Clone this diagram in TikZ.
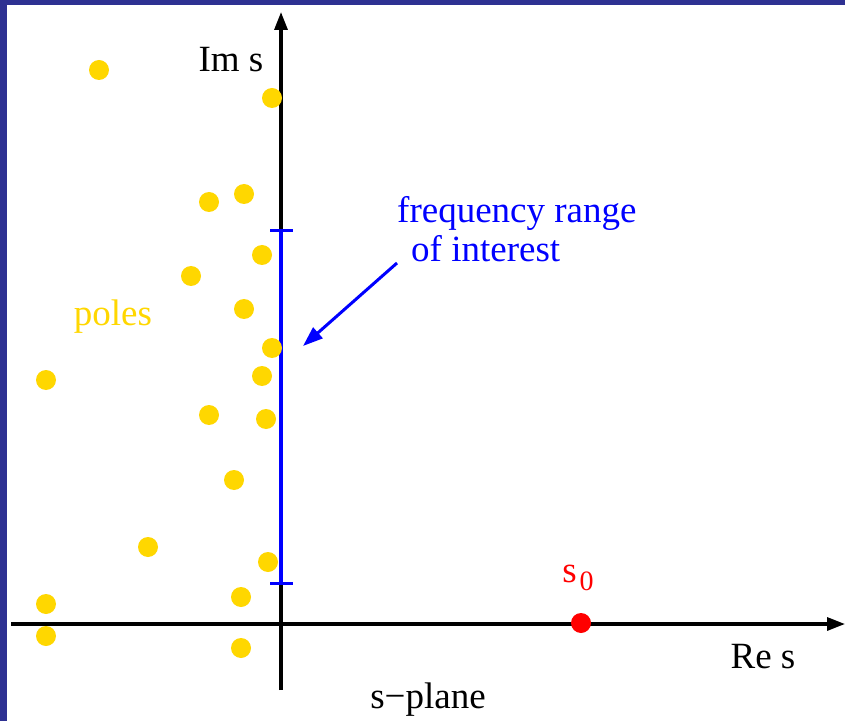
\documentclass[tikz,border=0pt]{standalone}
\usepackage{fontspec}
\setmainfont{Liberation Serif}
\usetikzlibrary{arrows.meta}
\definecolor{frameblue}{HTML}{2E3192}
\definecolor{polegold}{HTML}{FFD700}
\definecolor{pureblue}{HTML}{0000FF}
\definecolor{purered}{HTML}{FF0000}
\tikzset{
  pole/.style={circle,fill=polegold,inner sep=0pt,minimum size=20pt},
  lbl/.style={inner sep=0pt,font=\fontsize{37}{43}\selectfont},
  axis/.style={line width=3.2pt,-{Triangle[length=18pt,width=13pt]}},
}
\begin{document}
\begin{tikzpicture}[x=1pt,y=1pt]
\useasboundingbox (0,0) rectangle (845,721);
\fill[white] (0,0) rectangle (845,721);
\fill[frameblue] (0,0) rectangle (7,721);
\fill[frameblue] (0,716) rectangle (845,721);
% axes
\coordinate (xs) at (11,97);
\coordinate (xe) at (845,97);
\coordinate (ys) at (281,31);
\coordinate (ye) at (281,709);
\draw[axis] (xs) -- (xe);
\draw[axis] (ys) -- (ye);
% frequency range
\coordinate (fr1) at (281,138);
\coordinate (fr2) at (281,490);
\draw[pureblue,line width=3.2pt] (fr1) -- (fr2);
\draw[pureblue,line width=3pt] ([xshift=-11pt]fr1) -- ([xshift=12pt]fr1);
\draw[pureblue,line width=3pt] ([xshift=-11pt]fr2) -- ([xshift=12pt]fr2);
% poles
\foreach \n/\x/\y in {1/99/70,2/272/98,3/209/202,4/244/194,5/262/255,6/191/276,7/244/309,8/272/348,9/46/380,10/262/376,11/209/415,12/266/419,13/234/480,14/148/547,15/268/562,16/46/604,17/241/597,18/46/636,19/241/648}
  \node[pole] (p\n) at (\x,721-\y) {};
% s0
\node[circle,fill=purered,inner sep=0pt,minimum size=20pt] (s0) at (581,98) {};
\node[lbl,text=purered] (s0lbl) at (578,143) {s\kern3pt\raisebox{-0.5ex}{\fontsize{28}{32}\selectfont 0}};
% labels
\node[lbl] (ims) at (231,661) {Im s};
\node[lbl] (res) at (763,64) {Re s};
\node[lbl] (splane) at (428,21) {s−plane};
\node[lbl,text=polegold] (poles) at (113,404) {poles};
\node[lbl,text=pureblue,anchor=west] (fr) at (397,508) {frequency range};
\node[lbl,text=pureblue,anchor=west] (oi) at (411,472) {of interest};
\coordinate (arS) at (397,458);
\coordinate (arE) at (303,375);
\draw[pureblue,line width=3pt,-{Triangle[length=20pt,width=14pt]}] (arS) -- (arE);
\end{tikzpicture}
\end{document}
